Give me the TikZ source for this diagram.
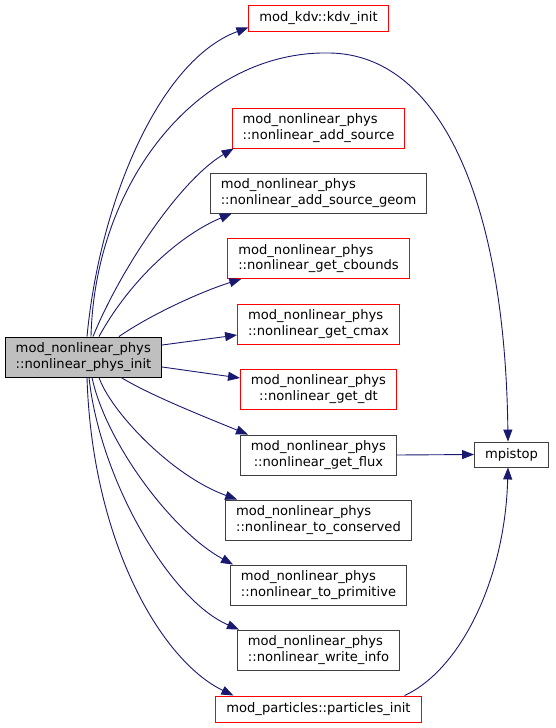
\documentclass[tikz,border=0pt]{standalone}
\usepackage{fontspec}
\setmainfont{DejaVu Sans}
\usetikzlibrary{arrows.meta}
\definecolor{EdgeClr}{rgb}{0.098,0.098,0.439}
\definecolor{BoxClr}{gray}{0.25}
\definecolor{MainClr}{gray}{0.75}
\newsavebox\fnfirst
\newsavebox\fnsecond
% first line flush left, last line centred (as graphviz does)
\newcommand\fnlabel[2]{\sbox\fnfirst{#1}\sbox\fnsecond{#2}%
  \ifdim\wd\fnsecond>\wd\fnfirst\makebox[\wd\fnsecond][l]{\usebox\fnfirst}\else\usebox\fnfirst\fi
  \\#2}

\begin{document}
\begin{tikzpicture}[x=1pt,y=-1pt,
  fn/.style={draw=BoxClr,line width=.9pt,fill=white,inner xsep=10.5pt,inner ysep=0pt,
    minimum height=40pt,align=center,font=\fontsize{13.1}{15.5}\selectfont},
  fnred/.style={fn,draw=red},
  fnone/.style={minimum height=26pt},
  call/.style={draw=EdgeClr,line width=.9pt,-{Triangle[length=12pt,width=9pt]}}]
\useasboundingbox (0,0) rectangle (555,728);

\node[fn,draw=black,fill=MainClr] (main) at (83.5,357)
  {\fnlabel{mod\_nonlinear\_phys}{::nonlinear\_phys\_init}};

\node[fnred,fnone] (kdvinit) at (318.5,18.5) {mod\_kdv::kdv\_init};
\node[fnred] (addsrc) at (318.5,128) {\fnlabel{mod\_nonlinear\_phys}{::nonlinear\_add\_source}};
\node[fn] (addsrcgeom) at (318.5,193) {\fnlabel{mod\_nonlinear\_phys}{::nonlinear\_add\_source\_geom}};
\node[fnred] (cbounds) at (318.5,258.5) {\fnlabel{mod\_nonlinear\_phys}{::nonlinear\_get\_cbounds}};
\node[fnred] (cmax) at (318.5,324) {\fnlabel{mod\_nonlinear\_phys}{::nonlinear\_get\_cmax}};
\node[fnred] (getdt) at (318.5,389) {\fnlabel{mod\_nonlinear\_phys}{::nonlinear\_get\_dt}};
\node[fn] (getflux) at (318.5,455) {\fnlabel{mod\_nonlinear\_phys}{::nonlinear\_get\_flux}};
\node[fn] (toconsv) at (318.5,520) {\fnlabel{mod\_nonlinear\_phys}{::nonlinear\_to\_conserved}};
\node[fn] (toprim) at (318.5,585) {\fnlabel{mod\_nonlinear\_phys}{::nonlinear\_to\_primitive}};
\node[fn] (writeinfo) at (318.5,650) {\fnlabel{mod\_nonlinear\_phys}{::nonlinear\_write\_info}};
\node[fnred,fnone] (partinit) at (318.5,709) {mod\_particles::particles\_init};
\node[fn,fnone,minimum height=25pt] (mpistop) at (511.5,454.5) {mpistop};

\draw[call] ([xshift=3.5pt]main.north) .. controls (100,200) and (160,60) .. ([yshift=-9pt]kdvinit.west);
\draw[call] ([xshift=7.5pt]main.north) .. controls (95,180) and (200,50) .. (330,53)
  .. controls (440,55) and (505,200) .. ([xshift=-3.5pt]mpistop.north);
\draw[call] ([xshift=9.5pt]main.north) .. controls (120,270) and (180,180) .. ([xshift=2pt]addsrc.south west);
\draw[call] ([xshift=15.5pt]main.north) .. controls (130,280) and (180,235) .. ([xshift=22pt]addsrcgeom.south west);
\draw[call] ([xshift=35.5pt]main.north) .. controls (150,315) and (200,292) .. ([xshift=14pt]cbounds.south west);
\draw[call] ([yshift=12pt]main.east) -- ([yshift=-11pt]cmax.west);
\draw[call] ([yshift=-10pt]main.east) -- ([yshift=11pt]getdt.west);
\draw[call] ([xshift=37.5pt]main.south) .. controls (150,395) and (200,415) .. ([xshift=8pt]getflux.north west);
\draw[call] ([xshift=15.5pt]main.south) .. controls (110,410) and (170,475) .. ([xshift=12pt]toconsv.north west);
\draw[call] ([xshift=8.5pt]main.south) .. controls (105,440) and (170,530) .. ([xshift=3pt]toprim.north west);
\draw[call] ([xshift=5.5pt]main.south) .. controls (100,480) and (170,600) .. ([xshift=2pt]writeinfo.north west);
\draw[call] ([xshift=3.5pt]main.south) .. controls (92,540) and (160,660) .. ([xshift=18pt]partinit.north west);

\draw[call] (getflux.east) -- (mpistop.west);
\draw[call] ([xshift=-17pt]partinit.north east) .. controls (460,670) and (505,580) .. ([xshift=-3.5pt]mpistop.south);
\end{tikzpicture}
\end{document}
